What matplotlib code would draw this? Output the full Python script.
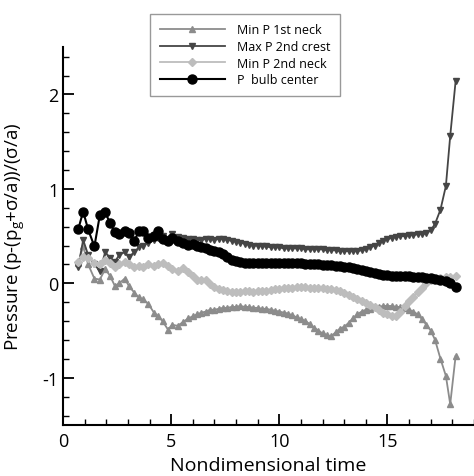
import matplotlib
matplotlib.use("Agg")
from matplotlib import pyplot as plt
from matplotlib.ticker import MultipleLocator

plt.rcParams['font.family'] = ['Open Sans', 'DejaVu Sans']
plt.rcParams['mathtext.fontset'] = 'custom'
plt.rcParams['mathtext.rm'] = 'Open Sans'
plt.rcParams['mathtext.it'] = 'Open Sans'
plt.rcParams['axes.unicode_minus'] = False

# nondimensional time samples
t = [0.7, 0.93, 1.16, 1.45, 1.7, 1.95, 2.17, 2.4, 2.6, 2.85, 3.05, 3.3, 3.5, 3.7,
     3.95, 4.2, 4.4, 4.6, 4.85, 5.05, 5.3, 5.55, 5.8,
     6.0, 6.2, 6.4, 6.6, 6.8, 7.0, 7.2, 7.4, 7.6, 7.8, 8.0, 8.2, 8.4, 8.6, 8.8,
     9.0, 9.2, 9.4, 9.6, 9.8, 10.0, 10.2, 10.4, 10.6, 10.8, 11.0, 11.2, 11.4,
     11.6, 11.8, 12.0, 12.2, 12.4, 12.6, 12.8, 13.0, 13.2, 13.4, 13.6, 13.8,
     14.0, 14.2, 14.4, 14.6, 14.8, 15.0, 15.2, 15.4, 15.6, 15.8, 16.0, 16.2,
     16.4, 16.6, 16.8, 17.0, 17.2, 17.45, 17.7, 17.9, 18.15]

# min P at 1st neck
neck1 = [0.21, 0.39, 0.2, 0.05, 0.04, 0.15, 0.08, -0.03, 0.0, 0.05, -0.03, -0.1,
         -0.15, -0.17, -0.22, -0.31, -0.35, -0.4, -0.49, -0.44, -0.45, -0.41, -0.37,
         -0.35, -0.33, -0.31, -0.3, -0.28, -0.28, -0.27, -0.26, -0.26, -0.25, -0.25,
         -0.24, -0.25, -0.25, -0.26, -0.26, -0.27, -0.27, -0.28, -0.29, -0.3, -0.31,
         -0.32, -0.34, -0.36, -0.38, -0.4, -0.43, -0.47, -0.5, -0.53, -0.55, -0.56,
         -0.52, -0.48, -0.46, -0.42, -0.37, -0.33, -0.3, -0.28, -0.27, -0.25, -0.25,
         -0.24, -0.24, -0.24, -0.25, -0.25, -0.26, -0.28, -0.3, -0.33, -0.38, -0.44,
         -0.5, -0.6, -0.8, -0.98, -1.28, -0.77]

# max P at 2nd crest
crest2 = [0.17, 0.46, 0.3, 0.2, 0.13, 0.33, 0.27, 0.23, 0.3, 0.33, 0.28, 0.33,
          0.38, 0.4, 0.43, 0.46, 0.48, 0.5, 0.46, 0.52, 0.49, 0.48, 0.47,
          0.47, 0.46, 0.46, 0.47, 0.47, 0.46, 0.47, 0.47, 0.46, 0.45, 0.44, 0.43,
          0.42, 0.41, 0.4, 0.4, 0.39, 0.39, 0.38, 0.38, 0.38, 0.37, 0.37, 0.37,
          0.37, 0.37, 0.36, 0.36, 0.36, 0.36, 0.36, 0.35, 0.35, 0.35, 0.34, 0.34,
          0.34, 0.34, 0.34, 0.35, 0.36, 0.38, 0.4, 0.43, 0.45, 0.47, 0.48, 0.49,
          0.5, 0.5, 0.51, 0.51, 0.52, 0.52, 0.53, 0.56, 0.63, 0.78, 1.03, 1.56, 2.14]

# min P at 2nd neck
neck2 = [0.23, 0.28, 0.27, 0.22, 0.2, 0.25, 0.21, 0.17, 0.2, 0.23, 0.2, 0.17,
         0.18, 0.17, 0.2, 0.18, 0.2, 0.22, 0.18, 0.15, 0.13, 0.16, 0.12,
         0.08, 0.04, 0.03, 0.03, -0.01, -0.04, -0.06, -0.07, -0.08, -0.09, -0.09,
         -0.09, -0.08, -0.08, -0.09, -0.08, -0.08, -0.08, -0.07, -0.06, -0.06,
         -0.05, -0.05, -0.05, -0.04, -0.04, -0.04, -0.05, -0.05, -0.05, -0.05,
         -0.06, -0.06, -0.07, -0.08, -0.1, -0.12, -0.15, -0.17, -0.19, -0.21,
         -0.23, -0.25, -0.28, -0.31, -0.33, -0.35, -0.35, -0.3, -0.24, -0.19,
         -0.14, -0.09, -0.05, 0.0, 0.04, 0.05, 0.06, 0.07, 0.07, 0.08]

# P at bulb center
bulb = [0.57, 0.76, 0.57, 0.39, 0.72, 0.75, 0.64, 0.54, 0.52, 0.55, 0.53, 0.45,
        0.55, 0.55, 0.48, 0.5, 0.55, 0.47, 0.45, 0.48, 0.45, 0.43, 0.41,
        0.42, 0.39, 0.38, 0.37, 0.35, 0.34, 0.33, 0.31, 0.28, 0.25, 0.24, 0.23,
        0.22, 0.22, 0.22, 0.22, 0.22, 0.22, 0.22, 0.22, 0.22, 0.22, 0.21, 0.21,
        0.21, 0.21, 0.2, 0.2, 0.2, 0.2, 0.19, 0.19, 0.19, 0.18, 0.18, 0.17,
        0.17, 0.16, 0.15, 0.14, 0.13, 0.12, 0.11, 0.1, 0.09, 0.09, 0.08, 0.08,
        0.08, 0.08, 0.08, 0.07, 0.07, 0.07, 0.06, 0.06, 0.05, 0.04, 0.02, 0.0, -0.04]

fig = plt.figure(figsize=(4.74, 4.77), dpi=100)
ax = fig.add_axes([0.133, 0.107, 0.867, 0.792])

ax.plot(t, neck1, color='#8c8c8c', marker='^', markersize=5, lw=1.3,
        label='Min P 1st neck')
ax.plot(t, crest2, color='#454545', marker='v', markersize=5, lw=1.3,
        label='Max P 2nd crest')
ax.plot(t, neck2, color='#bdbdbd', marker='D', markersize=4.5, lw=1.3,
        label='Min P 2nd neck')
ax.plot(t, bulb, color='black', marker='o', markersize=6.5, lw=1.5,
        label='P  bulb center')

ax.set_xlim(0, 19)
ax.set_ylim(-1.5, 2.5)
ax.set_xticks([0, 5, 10, 15])
ax.set_yticks([-1, 0, 1, 2])
ax.xaxis.set_minor_locator(MultipleLocator(1))
ax.yaxis.set_minor_locator(MultipleLocator(0.2))
ax.tick_params(which='major', direction='in', length=8, width=1.3, labelsize=13)
ax.tick_params(which='minor', direction='in', length=4, width=1)
ax.tick_params(axis='x', pad=5)

for side in ['top', 'right']:
    ax.spines[side].set_visible(False)
for side in ['left', 'bottom']:
    ax.spines[side].set_linewidth(1.5)

ax.set_xlabel('Nondimensional time', fontsize=14)
ax.set_ylabel(r'Pressure (p-(p$_\mathregular{g}$+$\sigma$/a))/($\sigma$/a)', fontsize=13.5)
ax.xaxis.set_label_coords(0.5, -0.082)
ax.yaxis.set_label_coords(-0.088, 0.5)

leg = fig.legend(loc='upper center', bbox_to_anchor=(0.517, 0.982), fontsize=9,
                 handlelength=5.2, handletextpad=1.0, fancybox=False, framealpha=1,
                 edgecolor='#999999', borderpad=0.75, labelspacing=0.3)
leg.get_frame().set_linewidth(1.0)

fig.savefig('out.png', dpi=100)
